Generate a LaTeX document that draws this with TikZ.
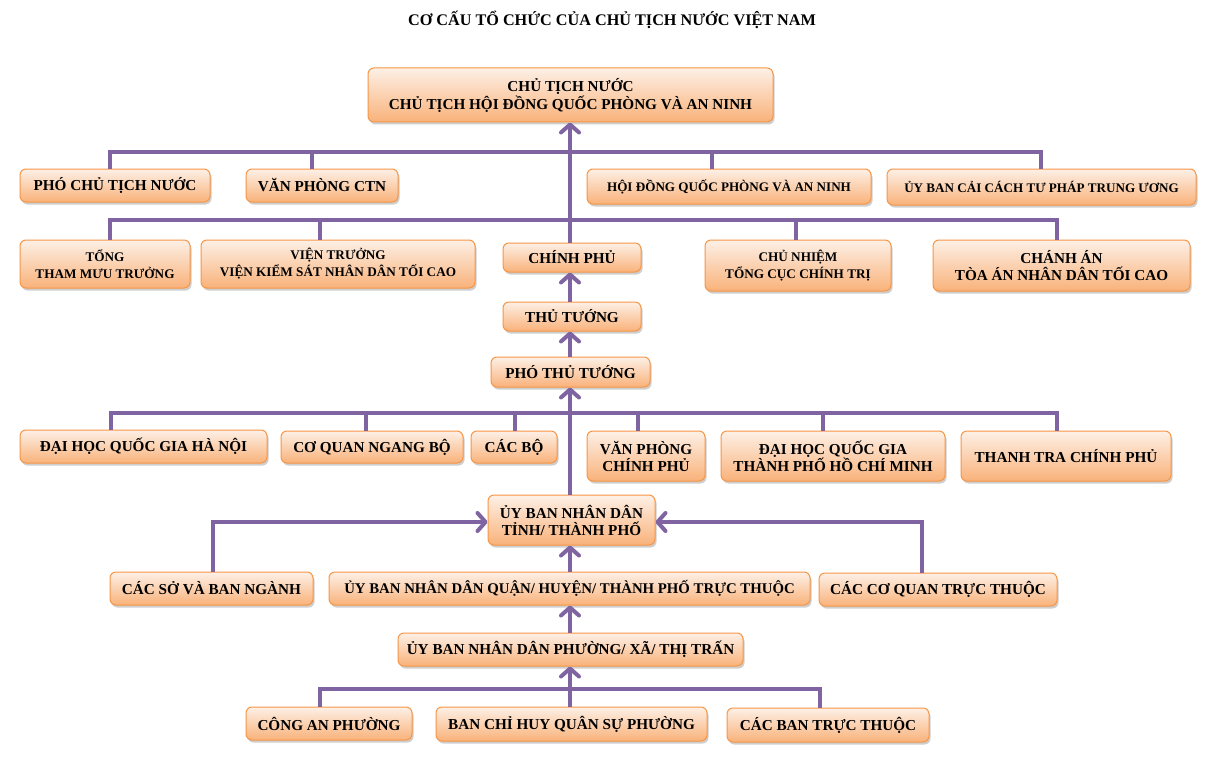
\documentclass[tikz,border=0pt]{standalone}
\usepackage{fontspec}
\setmainfont{Liberation Serif}
\usetikzlibrary{arrows.meta,shadows}
\definecolor{lnc}{HTML}{8064A2}
\definecolor{bdc}{HTML}{F79646}
\definecolor{ftop}{HTML}{FDF0E6}
\definecolor{fbot}{HTML}{F9B27A}
\begin{document}
\begin{tikzpicture}[x=1pt,y=-1pt,
 box/.style={draw=bdc, line width=1pt, rounded corners=6pt, top color=ftop, bottom color=fbot,
   drop shadow={shadow xshift=1.5pt, shadow yshift=-2.5pt, opacity=0.35, fill=black!55},
   font=\bfseries\fontsize{15.2}{17}\selectfont, align=center, inner sep=2pt},
 fs/.style={font=\bfseries\fontsize{#1}{17}\selectfont},
 lnk/.style={draw=lnc, line width=4pt},
 arr/.style={lnk, -{Straight Barb[length=8pt,width=18pt,line cap=round,line join=round]}},
]
\fill[white] (0,0) rectangle (1218,773);
\useasboundingbox (0,0) rectangle (1218,773);

\node[font=\bfseries\fontsize{16.2}{19}\selectfont] (title) at (612,20) {CƠ CẤU TỔ CHỨC CỦA CHỦ TỊCH NƯỚC VIỆT NAM};

% boxes
\node[box, minimum width=405, minimum height=54, font=\bfseries\fontsize{15.2}{18}\selectfont] (top) at (570.5,95) {CHỦ TỊCH NƯỚC\\CHỦ TỊCH HỘI ĐỒNG QUỐC PHÒNG VÀ AN NINH};

\node[box, minimum width=190, minimum height=33] (pctn) at (115,185.5) {PHÓ CHỦ TỊCH NƯỚC};
\node[box, minimum width=152, minimum height=33] (vpctn) at (322,185.5) {VĂN PHÒNG CTN};
\node[box, fs=13.1, minimum width=284, minimum height=35] (hdqp) at (729,186.5) {HỘI ĐỒNG QUỐC PHÒNG VÀ AN NINH};
\node[box, fs=13.1, minimum width=309, minimum height=36] (ubcc) at (1041.5,187) {ỦY BAN CẢI CÁCH TƯ PHÁP TRUNG ƯƠNG};

\node[box, fs=13.2, minimum width=170, minimum height=48] (ttmt) at (105,264) {TỔNG\\THAM MƯU TRƯỞNG};
\node[box, fs=13.2, minimum width=274, minimum height=48] (vks) at (338,264) {VIỆN TRƯỞNG\\VIỆN KIỂM SÁT NHÂN DÂN TỐI CAO};
\node[box, minimum width=138, minimum height=29] (cp) at (572,257.5) {CHÍNH PHỦ};
\node[box, fs=13.2, minimum width=186, minimum height=51] (cntc) at (798,265.5) {CHỦ NHIỆM\\TỔNG CỤC CHÍNH TRỊ};
\node[box, minimum width=257, minimum height=51] (ca) at (1061.5,265.5) {CHÁNH ÁN\\TÒA ÁN NHÂN DÂN TỐI CAO};

\node[box, minimum width=138, minimum height=29] (tt) at (572,316.5) {THỦ TƯỚNG};
\node[box, minimum width=159, minimum height=30] (ptt) at (570.5,372) {PHÓ THỦ TƯỚNG};

\node[box, minimum width=247, minimum height=33] (dhhn) at (143.5,446.5) {ĐẠI HỌC QUỐC GIA HÀ NỘI};
\node[box, minimum width=182, minimum height=32] (cqnb) at (372,447) {CƠ QUAN NGANG BỘ};
\node[box, minimum width=86, minimum height=32] (cb) at (514,447) {CÁC BỘ};
\node[box, minimum width=118, minimum height=50] (vpcp) at (646,456) {VĂN PHÒNG\\CHÍNH PHỦ};
\node[box, minimum width=224, minimum height=50] (dhhcm) at (833,456) {ĐẠI HỌC QUỐC GIA\\THÀNH PHỐ HỒ CHÍ MINH};
\node[box, minimum width=210, minimum height=50] (ttcp) at (1066,456) {THANH TRA CHÍNH PHỦ};

\node[box, minimum width=167, minimum height=50] (ubt) at (571.5,520) {ỦY BAN NHÂN DÂN\\TỈNH/ THÀNH PHỐ};

\node[box, minimum width=203, minimum height=33] (csbn) at (211.5,588.5) {CÁC SỞ VÀ BAN NGÀNH};
\node[box, fs=14.8, minimum width=481, minimum height=33] (ubq) at (569.5,588.5) {ỦY BAN NHÂN DÂN QUẬN/ HUYỆN/ THÀNH PHỐ TRỰC THUỘC};
\node[box, minimum width=238, minimum height=33] (ccq) at (938,589.5) {CÁC CƠ QUAN TRỰC THUỘC};

\node[box, minimum width=345, minimum height=33] (ubp) at (570.5,649.5) {ỦY BAN NHÂN DÂN PHƯỜNG/ XÃ/ THỊ TRẤN};

\node[box, minimum width=166, minimum height=33] (cap) at (329,723.5) {CÔNG AN PHƯỜNG};
\node[box, minimum width=271, minimum height=34] (bch) at (571.5,724) {BAN CHỈ HUY QUÂN SỰ PHƯỜNG};
\node[box, minimum width=202, minimum height=34] (cbtt) at (828,725) {CÁC BAN TRỰC THUỘC};

% bus coordinates
\coordinate (m) at (570,0);
\coordinate (b1a) at (110,152);
\coordinate (b1b) at (312,152);
\coordinate (b1c) at (712,152);
\coordinate (b1d) at (1041,152);
\coordinate (b2a) at (110,220);
\coordinate (b2b) at (320,220);
\coordinate (b2c) at (796,220);
\coordinate (b2d) at (1057,220);
\coordinate (b3a) at (111,413);
\coordinate (b3b) at (366,413);
\coordinate (b3c) at (515,413);
\coordinate (b3d) at (638,413);
\coordinate (b3e) at (823,413);
\coordinate (b3f) at (1057,413);
\coordinate (s1) at (213,522);
\coordinate (s2) at (922,522);
\coordinate (b4a) at (320,689);
\coordinate (b4b) at (820,689);

% connectors
\draw[lnk] (b1a |- pctn.north) -- (b1a) -- (b1d) -- (b1d |- ubcc.north);
\draw[lnk] (b1b) -- (b1b |- vpctn.north);
\draw[lnk] (b1c) -- (b1c |- hdqp.north);
\draw[lnk] (b2a |- ttmt.north) -- (b2a) -- (b2d) -- (b2d |- ca.north);
\draw[lnk] (b2b) -- (b2b |- vks.north);
\draw[lnk] (b2c) -- (b2c |- cntc.north);
\draw[arr] (cp.north -| m) -- (top.south -| m);
\draw[arr] (tt.north -| m) -- (cp.south -| m);
\draw[arr] (ptt.north -| m) -- (tt.south -| m);

\draw[lnk] (b3a |- dhhn.north) -- (b3a) -- (b3f) -- (b3f |- ttcp.north);
\draw[lnk] (b3b) -- (b3b |- cqnb.north);
\draw[lnk] (b3c) -- (b3c |- cb.north);
\draw[lnk] (b3d) -- (b3d |- vpcp.north);
\draw[lnk] (b3e) -- (b3e |- dhhcm.north);
\draw[arr] (ubt.north -| m) -- (ptt.south -| m);

\draw[arr] (s1 |- csbn.north) -- (s1) -- (s1 -| ubt.west);
\draw[arr] (s2 |- ccq.north) -- (s2) -- (s2 -| ubt.east);
\draw[arr] (ubq.north -| m) -- (ubt.south -| m);
\draw[arr] (ubp.north -| m) -- (ubq.south -| m);

\draw[lnk] (b4a |- cap.north) -- (b4a) -- (b4b) -- (b4b |- cbtt.north);
\draw[arr] (bch.north -| m) -- (ubp.south -| m);
\end{tikzpicture}
\end{document}
